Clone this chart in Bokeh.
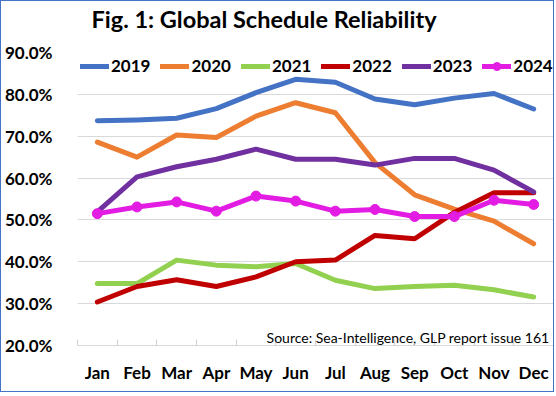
from bokeh.plotting import figure
from bokeh.models import Legend, LegendItem, FixedTicker, PrintfTickFormatter, Label, Range1d, Title
from bokeh.embed import file_html
from bokeh.resources import INLINE

months = ["Jan", "Feb", "Mar", "Apr", "May", "Jun", "Jul", "Aug", "Sep", "Oct", "Nov", "Dec"]
y_ticks = [20, 30, 40, 50, 60, 70, 80, 90]

r2019 = [73.7, 73.9, 74.3, 76.6, 80.4, 83.6, 82.9, 78.9, 77.5, 79.1, 80.2, 76.5]
r2020 = [68.6, 65.0, 70.3, 69.7, 74.8, 78.0, 75.6, 63.7, 56.0, 52.6, 49.7, 44.3]
r2021 = [34.8, 34.8, 40.4, 39.2, 38.8, 39.6, 35.6, 33.6, 34.1, 34.4, 33.3, 31.6]
r2022 = [30.4, 34.1, 35.7, 34.1, 36.4, 40.0, 40.4, 46.3, 45.5, 51.8, 56.5, 56.5]
r2023 = [51.9, 60.3, 62.7, 64.5, 66.9, 64.5, 64.5, 63.1, 64.7, 64.7, 61.9, 56.7]
r2024 = [51.5, 53.1, 54.3, 52.1, 55.7, 54.5, 52.1, 52.5, 50.8, 50.8, 54.7, 53.7]

series_names = ["2019", "2020", "2021", "2022", "2023", "2024"]
series_vals = [r2019, r2020, r2021, r2022, r2023, r2024]
colors = ["#4472C4", "#ED7D31", "#92D050", "#C00000", "#7030A0", "#E31CE3"]

title_text = "Fig. 1: Global Schedule Reliability"
source_text = "Source: Sea-Intelligence, GLP report issue 161"

x = list(range(len(months)))
FONT = "Lato"

p = figure(width=554, height=392, output_backend="svg", toolbar_location=None,
           x_range=Range1d(-0.5, len(months) - 0.5), y_range=Range1d(y_ticks[0], y_ticks[-1]),
           min_border_left=75, min_border_right=2, min_border_top=51, min_border_bottom=48,
           title=None)
p.styles = {"border": "1px solid #4472C4"}
p.outline_line_color = None
p.background_fill_color = "white"
p.border_fill_color = "white"

# spacer between the title and the plot frame
spacer = Title(text=" ", text_font_size="1px", standoff=16)
p.add_layout(spacer, "above")
main_title = Title(text=title_text, text_font=FONT, text_font_size="23.5px",
                   text_font_style="bold", text_color="black", align="left",
                   offset=14, standoff=2, vertical_align="bottom")
p.add_layout(main_title, "above")

# y axis
p.yaxis.ticker = FixedTicker(ticks=y_ticks)
p.yaxis.formatter = PrintfTickFormatter(format="%.1f%%")
p.yaxis.axis_line_color = None
p.yaxis.major_tick_line_color = None
p.yaxis.minor_tick_line_color = None
p.yaxis.major_label_standoff = 19
p.yaxis.major_label_text_font = FONT
p.yaxis.major_label_text_font_style = "bold"
p.yaxis.major_label_text_font_size = "17px"
p.yaxis.major_label_text_color = "black"
p.ygrid.ticker = FixedTicker(ticks=y_ticks)
p.ygrid.grid_line_color = "#D9D9D9"
p.ygrid.grid_line_width = 1

# x axis
p.xaxis.ticker = FixedTicker(ticks=x, minor_ticks=[i - 0.5 for i in range(len(months) + 1)])
p.xaxis.major_label_overrides = {i: m for i, m in enumerate(months)}
p.xaxis.axis_line_color = "#D9D9D9"
p.xaxis.major_tick_line_color = None
p.xaxis.minor_tick_line_color = "#D0D0D0"
p.xaxis.minor_tick_in = 6
p.xaxis.minor_tick_out = 0
p.xaxis.major_label_standoff = 10
p.xaxis.major_label_text_font = FONT
p.xaxis.major_label_text_font_style = "bold"
p.xaxis.major_label_text_font_size = "17px"
p.xaxis.major_label_text_color = "black"
p.xgrid.grid_line_color = None

items = []
for name, vals, col in zip(series_names, series_vals, colors):
    rs = [p.line(x, vals, line_width=5, color=col, line_join="round", line_cap="round")]
    if name == "2024":
        rs.append(p.scatter(x, vals, size=10, marker="circle", color=col))
    items.append(LegendItem(label=name, renderers=rs))

legend = Legend(items=items, orientation="horizontal", location="top_left",
                border_line_color=None, background_fill_alpha=0, padding=0, margin=3,
                spacing=10, glyph_width=29, glyph_height=20, label_standoff=2,
                label_text_font=FONT, label_text_font_style="bold",
                label_text_font_size="17px", label_text_color="black")
p.add_layout(legend)

src = Label(x=len(months) - 0.5, y=y_ticks[0], x_offset=-4, y_offset=8,
            text=source_text, text_align="right", text_baseline="middle",
            text_font=FONT, text_font_size="14px", text_color="black")
p.add_layout(src)

open("out.html", "w").write(file_html(p, INLINE))
